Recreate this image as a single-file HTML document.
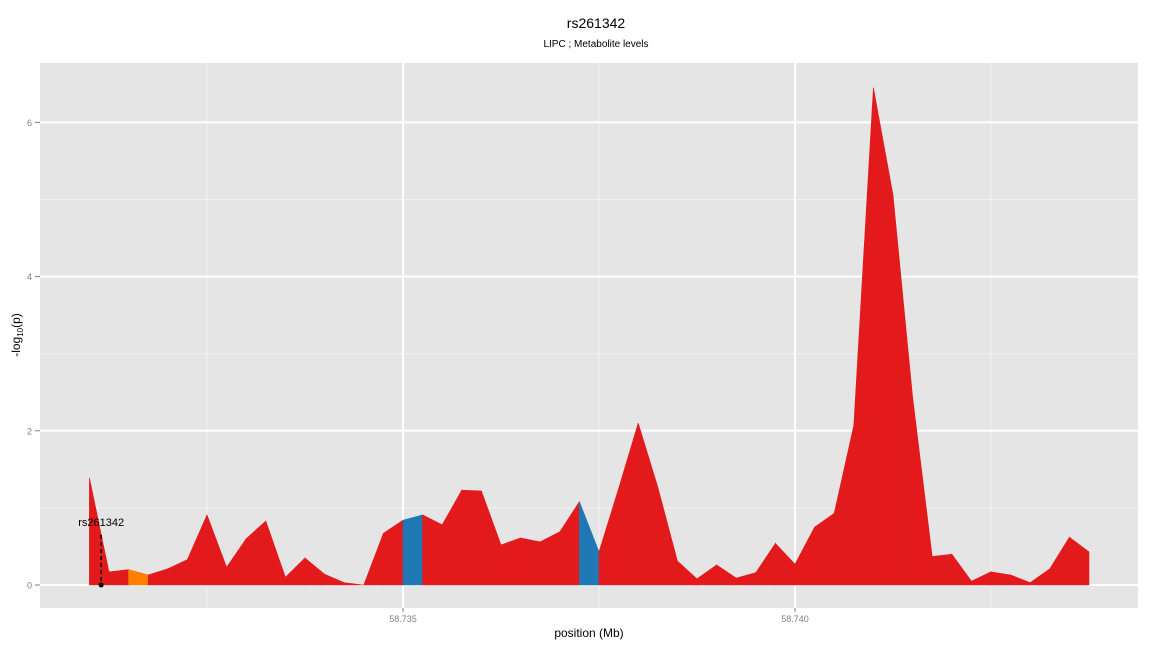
<!DOCTYPE html>
<html><head><meta charset="utf-8"><style>
body{margin:0;background:#fff;}
svg{display:block;font-family:"Liberation Sans",sans-serif;}
</style></head><body>
<svg id="chart" width="1152" height="648">
<text x="596" y="28" text-anchor="middle" font-size="14" fill="#000">rs261342</text>
<text x="596" y="47" text-anchor="middle" font-size="10" fill="#000">LIPC ; Metabolite levels</text>
<rect x="40" y="63" width="1098" height="545" fill="#e5e5e5"/>
<g id="grid"></g>
<g id="areas"></g>
<g id="ann"></g>
<g id="axes"></g>
<text x="589" y="637" text-anchor="middle" font-size="12" fill="#000">position (Mb)</text>
<text transform="translate(20,335) rotate(-90)" text-anchor="middle" font-size="12" fill="#000">-log<tspan font-size="8" dy="3">10</tspan><tspan dy="-3">(p)</tspan></text>
</svg>
<script>
const positions = [58.731,58.73125,58.7315,58.73175,58.732,58.73225,58.7325,58.73275,58.733,58.73325,58.7335,58.73375,58.734,58.73425,58.7345,58.73475,58.735,58.73525,58.7355,58.73575,58.736,58.73625,58.7365,58.73675,58.737,58.73725,58.7375,58.73775,58.738,58.73825,58.7385,58.73875,58.739,58.73925,58.7395,58.73975,58.74,58.74025,58.7405,58.74075,58.741,58.74125,58.7415,58.74175,58.742,58.74225,58.7425,58.74275,58.743,58.74325,58.7435,58.74375];
const logp = [1.39,0.17,0.20,0.13,0.21,0.33,0.91,0.23,0.60,0.83,0.10,0.35,0.14,0.03,0.0,0.67,0.84,0.91,0.78,1.23,1.22,0.52,0.61,0.56,0.69,1.08,0.43,1.25,2.10,1.27,0.31,0.08,0.26,0.09,0.16,0.54,0.27,0.75,0.93,2.07,6.45,5.06,2.44,0.37,0.40,0.05,0.17,0.13,0.03,0.21,0.62,0.43];
const segColors = ['r','r','o','r','r','r','r','r','r','r','r','r','r','r','r','r','b','r','r','r','r','r','r','r','r','b','r','r','r','r','r','r','r','r','r','r','r','r','r','r','r','r','r','r','r','r','r','r','r','r','r'];
const yTicks = [0,2,4,6];
const xTicks = [58.735,58.740];
const xMinor = [58.7325,58.7375,58.7425];
const snpName = 'rs261342';
const snpPos = 58.73115;
const colorMap = {r:'#e31a1c',b:'#1f78b4',o:'#ff7f00'};
const NS='http://www.w3.org/2000/svg';
function X(p){return 403+(p-58.735)*78400;}
function Y(v){return 585-v*77.1;}
function mk(tag,attrs,parent){const e=document.createElementNS(NS,tag);for(const k in attrs)e.setAttribute(k,attrs[k]);parent.appendChild(e);return e;}
const grid=document.getElementById('grid'),areas=document.getElementById('areas'),ann=document.getElementById('ann'),axes=document.getElementById('axes');
xMinor.forEach(p=>{const l=mk('line',{x1:X(p),x2:X(p),y1:63,y2:608,stroke:'#f2f2f2','stroke-width':1},grid);

});
[1,3,5].forEach(v=>{const l=mk('line',{x1:40,x2:1138,y1:Y(v),y2:Y(v),stroke:'#f2f2f2','stroke-width':1},grid);

});
yTicks.forEach(v=>{const l=mk('line',{x1:40,x2:1138,y1:Y(v),y2:Y(v),stroke:'#fff','stroke-width':2},grid);


const t=mk('line',{x1:35,x2:40,y1:Y(v),y2:Y(v),stroke:'#7f7f7f'},axes);


const tx=mk('text',{x:32,y:Y(v)+3.5,'text-anchor':'end','font-size':9,fill:'#7f7f7f'},axes);tx.textContent=v;

});
xTicks.forEach(p=>{const l=mk('line',{x1:X(p),x2:X(p),y1:63,y2:608,stroke:'#fff','stroke-width':2},grid);


const t=mk('line',{x1:X(p),x2:X(p),y1:608,y2:612,stroke:'#7f7f7f'},axes);


const tx=mk('text',{x:X(p),y:622,'text-anchor':'middle','font-size':9,fill:'#7f7f7f'},axes);tx.textContent=p.toFixed(3);

});
for(let i=0;i<positions.length-1;i++){
 const x1=X(positions[i]),x2=X(positions[i+1]);
 const pts=`${x1},${Y(0)} ${x1},${Y(logp[i])} ${x2},${Y(logp[i+1])} ${x2},${Y(0)}`;
 const c=colorMap[segColors[i]];
 const pg=mk('polygon',{points:pts,fill:c,stroke:c,'stroke-width':0.6},areas);
 
 
}
const sx=X(snpPos);
const dl=mk('line',{x1:sx,x2:sx,y1:535,y2:Y(0),stroke:'#000','stroke-width':1.5,'stroke-dasharray':'4,3'},ann);


const dot=mk('circle',{cx:sx,cy:Y(0),r:2.5,fill:'#000'},ann);


const lt=mk('text',{x:sx,y:526,'text-anchor':'middle','font-size':11,fill:'#000'},ann);lt.textContent=snpName;


</script>
</body></html>
